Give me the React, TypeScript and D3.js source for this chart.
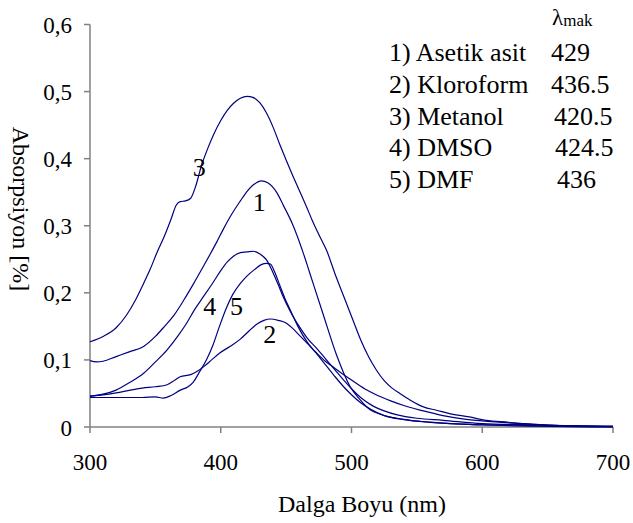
import React from "react";
import * as d3 from "d3";

// wavelength (nm) / absorbance pairs
const asetikNm = [300,305,310,320,330,341,350,357,364,372,379,386,392,397,402,408,415,420,425,431,436,443,448,455,463,468,478,489,499,506,514,522,529,545,555,575,600,650,700];
const asetikAbs = [0.099,0.097,0.098,0.105,0.112,0.120,0.135,0.150,0.166,0.190,0.213,0.237,0.258,0.276,0.295,0.316,0.337,0.351,0.361,0.367,0.364,0.349,0.330,0.302,0.260,0.230,0.170,0.105,0.060,0.042,0.026,0.019,0.015,0.010,0.008,0.005,0.003,0.001,0.000];

const kloroNm = [300,310,320,331,340,350,359,365,369,377,382,387,393,399,407,415,421,428,433,438,444,450,455,460,466,473,480,487,494,500,510,520,530,540,555,570,585,600,615,630,650,700];
const kloroAbs = [0.046,0.048,0.051,0.055,0.058,0.060,0.063,0.070,0.075,0.078,0.083,0.090,0.100,0.110,0.120,0.131,0.142,0.154,0.159,0.161,0.159,0.155,0.147,0.137,0.125,0.111,0.098,0.088,0.078,0.070,0.057,0.047,0.039,0.032,0.024,0.017,0.012,0.009,0.007,0.005,0.003,0.001];

const metanolNm = [300,310,320,328,335,341,346,351,357,362,366,369,373,377,381,385,390,395,400,405,410,415,420,425,430,435,440,445,450,455,460,465,470,475,481,488,495,501,507,513,519,525,531,537,545,555,565,575,590,603,620,631,650,700];
const metanolAbs = [0.127,0.135,0.148,0.167,0.190,0.214,0.235,0.259,0.285,0.310,0.331,0.336,0.337,0.341,0.360,0.388,0.415,0.438,0.457,0.472,0.483,0.490,0.493,0.491,0.483,0.468,0.447,0.422,0.398,0.375,0.353,0.331,0.308,0.287,0.263,0.225,0.190,0.160,0.130,0.105,0.085,0.069,0.058,0.050,0.040,0.030,0.025,0.020,0.015,0.010,0.007,0.005,0.003,0.001];

const dmsoNm = [300,310,320,330,341,350,359,367,374,380,387,394,400,405,410,415,420,425,430,435,440,444,448,453,460,466,473,480,487,494,500,507,515,525,535,550,570,600,640,700];
const dmsoAbs = [0.046,0.049,0.055,0.066,0.080,0.097,0.115,0.135,0.155,0.175,0.195,0.215,0.233,0.246,0.255,0.260,0.261,0.262,0.258,0.249,0.230,0.212,0.193,0.173,0.150,0.133,0.118,0.102,0.086,0.070,0.057,0.044,0.033,0.024,0.018,0.013,0.010,0.005,0.003,0.001];

const dmfNm = [300,320,340,350,356,362,369,375,379,384,389,394,399,404,409,415,420,426,431,435,438,441,445,449,453,459,466,473,480,487,494,500,507,515,525,540,560,590,620,660,700];
const dmfAbs = [0.044,0.044,0.044,0.045,0.043,0.047,0.055,0.060,0.067,0.083,0.100,0.122,0.150,0.176,0.197,0.214,0.225,0.235,0.242,0.244,0.243,0.232,0.212,0.192,0.175,0.150,0.127,0.110,0.093,0.076,0.060,0.048,0.036,0.026,0.017,0.011,0.007,0.004,0.003,0.001,0.000];

const seriesNm = [asetikNm, kloroNm, metanolNm, dmsoNm, dmfNm];
const seriesAbs = [asetikAbs, kloroAbs, metanolAbs, dmsoAbs, dmfAbs];

const legendLabels = ["1) Asetik asit", "2) Kloroform", "3) Metanol", "4) DMSO", "5) DMF"];
const lambdaMax = ["429", "436.5", "420.5", "424.5", "436"];
const curveNumbers = ["1", "2", "3", "4", "5"];

const xTicks = [300, 400, 500, 600, 700];
const yTicks = [0, 0.1, 0.2, 0.3, 0.4, 0.5, 0.6];

const faces = ["'Liberation Serif'"];
const LINE = "#000080";
const AXIS = "#808080";

export default function App() {
  const ff = faces[0];
  const x = d3.scaleLinear().domain([300, 700]).range([90, 613]);
  const y = d3.scaleLinear().domain([0, 0.6]).range([427, 24.5]);
  const line = d3
    .line<[number, number]>()
    .x((d) => x(d[0]))
    .y((d) => y(d[1]))
    .curve(d3.curveMonotoneX);

  const labelPos: [number, number][] = [
    [429.5, 0.335],
    [437.5, 0.138],
    [383.5, 0.387],
    [391.5, 0.18],
    [412, 0.18],
  ];
  const valueX = [551, 551, 554, 555, 557];

  return (
    <svg width={633} height={523} style={{ position: "absolute", left: 0, top: 0, background: "#fff" }}>
      <line x1={90} x2={90} y1={y(0.6)} y2={y(0)} stroke={AXIS} strokeWidth={1.5} />
      <line x1={90} x2={613} y1={y(0)} y2={y(0)} stroke={AXIS} strokeWidth={1.5} />
      {yTicks.map((t) => (
        <g key={"y" + t}>
          <line x1={84} x2={90} y1={y(t)} y2={y(t)} stroke={AXIS} strokeWidth={1.5} />
          <text x={72} y={y(t) + 8.5} textAnchor="end" fontFamily={ff} fontSize={23}>
            {t === 0 ? "0" : d3.format(".1f")(t).replace(".", ",")}
          </text>
        </g>
      ))}
      {xTicks.map((t) => (
        <g key={"x" + t}>
          <line x1={x(t)} x2={x(t)} y1={y(0)} y2={y(0) + 6} stroke={AXIS} strokeWidth={1.5} />
          <text x={x(t)} y={470} textAnchor="middle" fontFamily={ff} fontSize={23}>
            {t}
          </text>
        </g>
      ))}
      <text x={362} y={512} textAnchor="middle" fontFamily={ff} fontSize={24}>
        Dalga Boyu (nm)
      </text>
      <text transform="translate(13,209) rotate(90)" textAnchor="middle" fontFamily={ff} fontSize={24}>
        Absorpsiyon [%]
      </text>

      {seriesNm.map((nm, i) => {
        const pts = nm.map((v, j) => [v, seriesAbs[i][j]] as [number, number]);
        return <path key={"c" + i} d={line(pts) || ""} fill="none" stroke={LINE} strokeWidth={1.2} />;
      })}

      {curveNumbers.map((n, i) => (
        <text key={"n" + i} x={x(labelPos[i][0])} y={y(labelPos[i][1]) + 9} textAnchor="middle" fontFamily={ff} fontSize={26}>
          {n}
        </text>
      ))}

      <text x={552} y={25} fontFamily={ff} fontSize={23}>
        λ<tspan fontSize={17} dy={0.5}>mak</tspan>
      </text>
      {legendLabels.map((lab, i) => (
        <g key={"l" + i}>
          <text x={389} y={61 + i * 31.8} fontFamily={ff} fontSize={26}>
            {lab}
          </text>
          <text x={valueX[i]} y={61 + i * 31.8} fontFamily={ff} fontSize={26}>
            {lambdaMax[i]}
          </text>
        </g>
      ))}
    </svg>
  );
}
